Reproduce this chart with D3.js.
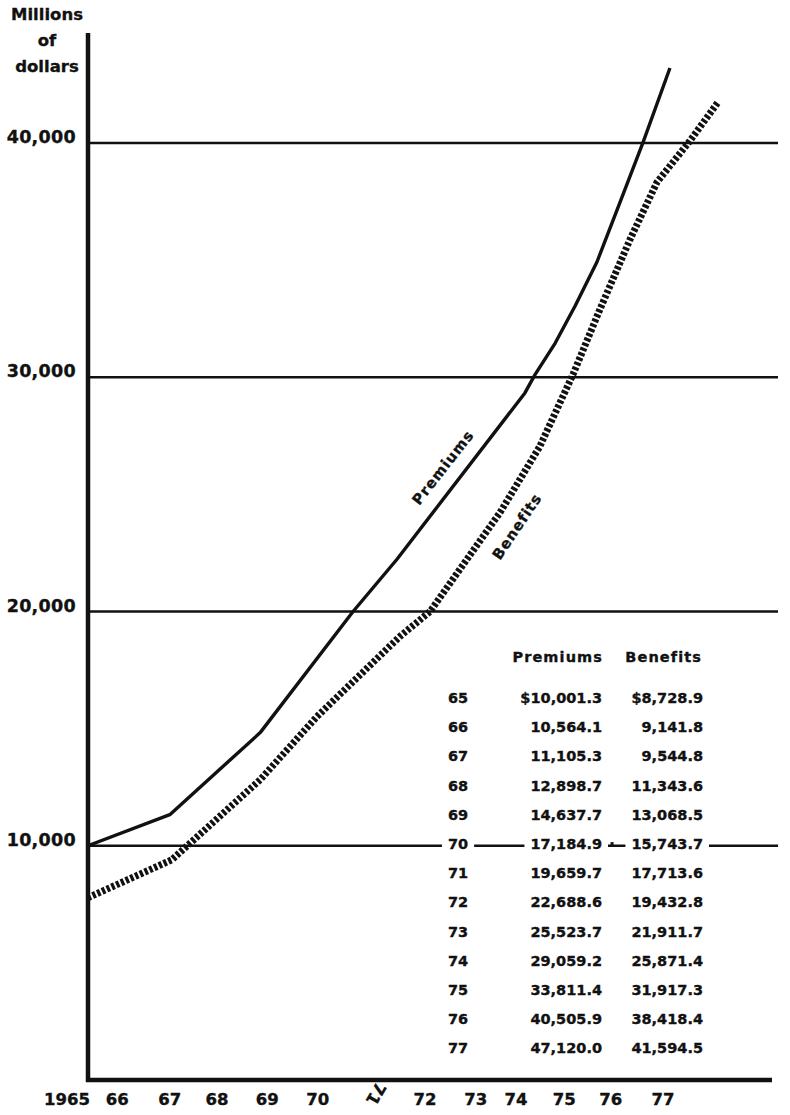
<!DOCTYPE html>
<html>
<head>
<meta charset="utf-8">
<script src="https://cdn.jsdelivr.net/npm/d3@7"></script>
<style>
  body { margin: 0; background: #fff; }
  svg { display: block; }
  text { font-family: "DejaVu Sans", sans-serif; font-weight: bold; fill: #111; stroke: #111; stroke-width: 0.35px; }
</style>
</head>
<body>
<svg id="chart" width="790" height="1115"></svg>
<script>
// values (x = year position, y = millions of dollars)
const premiumLine = [
  [1965.42, 10000], [1967.07, 11325], [1968.89, 14830], [1970.76, 20000],
  [1971.64, 22220], [1974.22, 29330], [1974.42, 30100], [1974.83, 31460],
  [1975.23, 33040], [1975.67, 34920], [1976.13, 37440], [1976.60, 40040],
  [1977.14, 43200]
];
const benefitLine = [
  [1965.42, 7780], [1967.11, 9400], [1968.89, 12820], [1970.03, 15510],
  [1971.70, 18930], [1972.31, 20000], [1973.72, 24230], [1974.52, 27050],
  [1975.19, 30130], [1975.73, 32900], [1976.34, 35900], [1976.88, 38330],
  [1977.54, 40085], [1978.11, 41750]
];
const yTicks = [10000, 20000, 30000, 40000];
const xLabels = ['1965', '66', '67', '68', '69', '70', '71', '72', '73', '74', '75', '76', '77'];
const xLabelAt = [1965.0, 1966.01, 1967.07, 1968.02, 1969.03, 1970.05, 1971.22, 1972.21, 1973.23, 1974.04, 1975.01, 1975.95, 1977.0];

// table
const tableYears = ['65', '66', '67', '68', '69', '70', '71', '72', '73', '74', '75', '76', '77'];
const tablePremiums = [10001.3, 10564.1, 11105.3, 12898.7, 14637.7, 17184.9, 19659.7, 22688.6, 25523.7, 29059.2, 33811.4, 40505.9, 47120.0];
const tableBenefits = [8728.9, 9141.8, 9544.8, 11343.6, 13068.5, 15743.7, 17713.6, 19432.8, 21911.7, 25871.4, 31917.3, 38418.4, 41594.5];

// line labels: [text, year pos, value, angle]
const lineLabels = [
  ['Premiums', 1972.57, 26150, -52],
  ['Benefits', 1974.06, 23630, -56]
];

const svg = d3.select('#chart');
svg.append('rect').attr('width', 790).attr('height', 1115).attr('fill', '#fff');

const axisX = 88, axisTop = 33, axisBottom = 1080, gridRight = 778, xAxisRight = 772;

const xScale = d3.scaleLinear().domain([1965, 1977]).range([67, 663]);
const yScale = d3.scaleLinear().domain([0, 40000]).range([1080, 143]);
const fmt = d3.format(',.1f');

// gridlines
svg.selectAll('.grid')
  .data(yTicks)
  .join('line')
    .attr('class', 'grid')
    .attr('x1', axisX).attr('x2', gridRight)
    .attr('y1', d => yScale(d)).attr('y2', d => yScale(d))
    .attr('stroke', '#111')
    .attr('stroke-width', 2.4)

// y tick labels
svg.selectAll('.ylab')
  .data(yTicks)
  .join('text')
    .attr('class', 'ylab')
    .attr('x', 76)
    .attr('y', d => yScale(d))
    .attr('text-anchor', 'end')
    .attr('font-size', 17.5)
    .attr('letter-spacing', 0.3)
    .text(d => d3.format(',')(d))

// y title
const title = ['Millions', 'of', 'dollars'];
svg.selectAll('.ytitle')
  .data(title)
  .join('text')
    .attr('class', 'ytitle')
    .attr('x', 47)
    .attr('y', (d, i) => 20 + i * 26)
    .attr('text-anchor', 'middle')
    .attr('font-size', 16.5)
    .text(d => d)

// table
const rowY = i => 703 + i * 29.2;
const tg = svg.append('g');
tg.append('text').attr('x', 603).attr('y', 662).attr('text-anchor', 'end')
  .attr('font-size', 14.5).attr('letter-spacing', 1.1).text('Premiums');
tg.append('text').attr('x', 702).attr('y', 662).attr('text-anchor', 'end')
  .attr('font-size', 14.5).attr('letter-spacing', 1.1).text('Benefits');

tableYears.forEach((yr, i) => {
  const y = rowY(i);
  const onGrid = yTicks.some(t => Math.abs(yScale(t) - (y - 5)) < 6);
  const cells = [
    [yr, 458, 'middle'],
    [(i === 0 ? '$' : '') + fmt(tablePremiums[i]), 602, 'end'],
    [(i === 0 ? '$' : '') + fmt(tableBenefits[i]), 703, 'end']
  ];
  cells.forEach(c => {
    const t = tg.append('text')
      .attr('x', c[1]).attr('y', y)
      .attr('text-anchor', c[2])
      .attr('font-size', 14.5)
      .text(c[0]);
    if (onGrid) {
      const b = t.node().getBBox();
      tg.insert('rect', () => t.node())
        .attr('x', b.x - 6).attr('y', b.y + 2)
        .attr('width', b.width + 12).attr('height', b.height - 4)
        .attr('fill', '#fff');
    }
  });
  if (onGrid) {
    tg.append('text').attr('x', 612).attr('y', y).attr('text-anchor', 'middle')
      .attr('font-size', 14.5).text('·');
  }
});

// lines
const line = d3.line()
  .x(d => xScale(d[0]))
  .y(d => yScale(d[1]))
  .curve(d3.curveLinear);

svg.append('path')
  .datum(benefitLine)
  .attr('d', line)
  .attr('fill', 'none')
  .attr('stroke', '#111')
  .attr('stroke-width', 7)
  .attr('stroke-dasharray', '3.2,2')

svg.append('path')
  .datum(premiumLine)
  .attr('d', line)
  .attr('fill', 'none')
  .attr('stroke', '#111')
  .attr('stroke-width', 3.4)
  .attr('stroke-linejoin', 'round')

// line labels
svg.selectAll('.llab')
  .data(lineLabels)
  .join('text')
    .attr('class', 'llab')
    .attr('transform', d => `translate(${xScale(d[1])},${yScale(d[2])}) rotate(${d[3]})`)
    .attr('text-anchor', 'middle')
    .attr('dy', '0.35em')
    .attr('font-size', 14.5)
    .attr('letter-spacing', 1)
    .text(d => d[0])

// axes
svg.append('line')
  .attr('x1', axisX).attr('x2', axisX)
  .attr('y1', axisTop).attr('y2', axisBottom + 2)
  .attr('stroke', '#111').attr('stroke-width', 4.5)
svg.append('line')
  .attr('x1', axisX - 2).attr('x2', xAxisRight)
  .attr('y1', axisBottom).attr('y2', axisBottom)
  .attr('stroke', '#111').attr('stroke-width', 4.5)

// x labels (the "71" is printed turned over in the original)
svg.selectAll('.xlab')
  .data(xLabels)
  .join('text')
    .attr('class', 'xlab')
    .attr('transform', (d, i) => d === '71'
      ? `translate(${xScale(xLabelAt[i])},1094) rotate(120)`
      : `translate(${xScale(xLabelAt[i])},1105)`)
    .attr('text-anchor', 'middle')
    .attr('dy', d => d === '71' ? '0.35em' : 0)
    .attr('font-size', 16.5)
    .text(d => d)
</script>
</body>
</html>
